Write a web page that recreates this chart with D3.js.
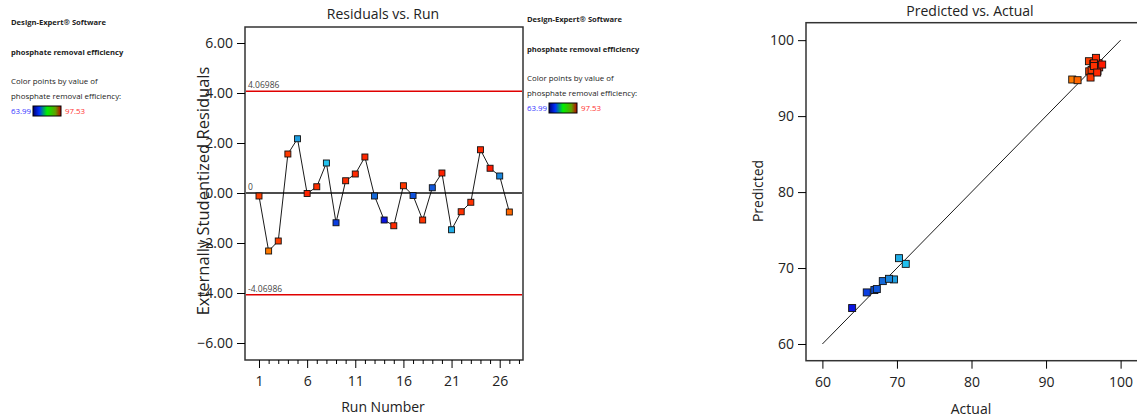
<!DOCTYPE html>
<html><head><meta charset="utf-8">
<script src="https://cdn.jsdelivr.net/npm/d3@7"></script>
<style>
body{margin:0;background:#fff;}
text{font-family:"Open Sans","Noto Sans",sans-serif;fill:#222;}
</style></head><body>
<svg id="c" width="1137" height="419"></svg>
<script>
// ---- data ----
const runs = d3.range(1, 28);
const residuals = [-0.12,-2.32,-1.92,1.56,2.17,-0.02,0.25,1.20,-1.19,0.49,0.76,1.44,-0.12,-1.08,-1.31,0.29,-0.10,-1.08,0.21,0.80,-1.47,-0.75,-0.37,1.73,0.99,0.68,-0.76];
const actual    = [95.79,93.51,95.75,95.97,69.60,97.05,96.50,71.18,65.95,96.60,96.78,96.90,68.10,63.99,96.69,96.11,66.97,96.33,67.30,97.13,70.28,96.42,96.42,96.86,97.53,68.94,94.23];
const predicted = [95.90,94.82,97.23,95.08,68.50,96.97,96.25,70.55,66.79,96.20,96.27,95.95,68.28,64.73,97.67,96.09,67.10,96.88,67.23,96.42,71.30,96.95,96.60,95.74,96.79,68.58,94.73];
const limitValue = 4.06986;
const resTicks = [-6,-4,-2,0,2,4,6];
const runTicks = [1,6,11,16,21,26];
const pvaTicks = [60,70,80,90,100];
const legendMin = 63.99, legendMax = 97.53;
const colorStops = [63.99,66,68,69.6,71.3,93.5,95.8,97.53];
const colorRange = ["#0a14e0","#0b3fe0","#1466d8","#1f9ee0","#22c4ef","#ff7a00","#ff3e00","#ff1a00"];

const svg = d3.select("#c");
const color = d3.scaleLinear().domain(colorStops).range(colorRange);

// gradient
const defs = svg.append("defs");
const g = defs.append("linearGradient").attr("id","grad");
[["0%","#000070"],["22%","#0030ff"],["50%","#00f000"],["80%","#60a000"],["100%","#c00000"]].forEach(s=>g.append("stop").attr("offset",s[0]).attr("stop-color",s[1]));

function legend(x, y0) {
  const L = svg.append("g");
  L.append("text").attr("x",x).attr("y",y0).attr("font-size",7.6).attr("font-weight","bold").text("Design-Expert® Software");
  L.append("text").attr("x",x).attr("y",y0+30).attr("font-size",7.6).attr("font-weight","bold").text("phosphate removal efficiency");
  L.append("text").attr("x",x).attr("y",y0+59).attr("font-size",7.9).text("Color points by value of");
  L.append("text").attr("x",x).attr("y",y0+74).attr("font-size",7.9).text("phosphate removal efficiency:");
  L.append("text").attr("x",x).attr("y",y0+89).attr("font-size",7.9).style("fill","#3333ff").text(legendMin.toFixed(2));
  L.append("rect").attr("x",x+22).attr("y",y0+81).attr("width",28).attr("height",10).attr("fill","url(#grad)").attr("stroke","#000").attr("stroke-width",1);
  L.append("text").attr("x",x+54).attr("y",y0+89).attr("font-size",7.9).style("fill","#ff3333").text(legendMax.toFixed(2));
}
legend(11, 25);
legend(527, 22);

// ---- Residuals vs Run ----
const x1 = d3.scaleLinear().domain([-0.454, 28.42]).range([245, 523]);
const y1 = d3.scaleLinear().domain([-6.68, 6.64]).range([360, 27]);
const p1 = svg.append("g");
p1.append("rect").attr("x",245).attr("y",27).attr("width",278).attr("height",333).attr("fill","none").attr("stroke","#333").attr("stroke-width",1.5);
// axes
const ya1 = p1.append("g").attr("transform","translate(245,0)").call(d3.axisLeft(y1).tickValues(resTicks).tickFormat(d3.format(".2f")).tickSize(8).tickSizeOuter(0));
ya1.select(".domain").remove();
ya1.selectAll("text").attr("font-size",14).attr("dx",-1).style("font-family","'Open Sans'");
const xa1 = p1.append("g").attr("transform","translate(0,360)").call(d3.axisBottom(x1).tickValues(runTicks).tickFormat(d3.format("d")).tickSize(8).tickSizeOuter(0));
xa1.select(".domain").remove();
xa1.selectAll("text").attr("font-size",14).attr("dy","1.1em").style("font-family","'Open Sans'");
const xm1 = p1.append("g").attr("transform","translate(0,360)").call(d3.axisBottom(x1).tickValues(d3.range(1,29).filter(d=>!runTicks.includes(d))).tickFormat("").tickSize(4).tickSizeOuter(0));
xm1.select(".domain").remove();
// limit lines
[limitValue, -limitValue].forEach(v=>{
  p1.append("line").attr("x1",246).attr("x2",522).attr("y1",y1(v)).attr("y2",y1(v)).attr("stroke","#e00000").attr("stroke-width",1.5);
  p1.append("text").attr("x",248).attr("y",y1(v)-3).attr("font-size",8.5).style("fill","#444").text(v.toFixed(5));
});
p1.append("line").attr("x1",246).attr("x2",522).attr("y1",y1(0)).attr("y2",y1(0)).attr("stroke","#111").attr("stroke-width",1.5);
p1.append("text").attr("x",248).attr("y",y1(0)-3).attr("font-size",8.5).style("fill","#444").text("0");
// line
p1.append("path").datum(runs).attr("fill","none").attr("stroke","#000").attr("stroke-width",0.9)
  .attr("d", d3.line().x(d=>x1(d)).y((d,i)=>y1(residuals[i])));
p1.selectAll("rect.pt").data(runs).join("rect").attr("class","pt")
  .attr("x",d=>x1(d)-3).attr("y",(d,i)=>y1(residuals[i])-3).attr("width",6).attr("height",6)
  .attr("fill",(d,i)=>color(actual[i])).attr("stroke","#111").attr("stroke-width",0.9);
p1.append("text").attr("x",383).attr("y",19).attr("text-anchor","middle").attr("font-size",14).text("Residuals vs. Run");
p1.append("text").attr("x",383).attr("y",412).attr("text-anchor","middle").attr("font-size",14).text("Run Number");
p1.append("text").attr("transform","translate(209,191) rotate(-90)").attr("text-anchor","middle").attr("font-size",16.5).text("Externally Studentized Residuals");

// ---- Predicted vs Actual ----
const x2 = d3.scaleLinear().domain([57.8, 102.2]).range([806, 1137]);
const y2 = d3.scaleLinear().domain([57.8, 102.3]).range([360.7, 22.7]);
const p2 = svg.append("g");
p2.append("rect").attr("x",806).attr("y",22.7).attr("width",340).attr("height",338).attr("fill","none").attr("stroke","#333").attr("stroke-width",1.5);
const ya2 = p2.append("g").attr("transform","translate(806,0)").call(d3.axisLeft(y2).tickValues(pvaTicks).tickFormat(d3.format("d")).tickSize(8).tickSizeOuter(0));
ya2.select(".domain").remove();
ya2.selectAll("text").attr("font-size",14).attr("dx",-1).style("font-family","'Open Sans'");
const xa2 = p2.append("g").attr("transform","translate(0,360.7)").call(d3.axisBottom(x2).tickValues(pvaTicks).tickFormat(d3.format("d")).tickSize(8).tickSizeOuter(0));
xa2.select(".domain").remove();
xa2.selectAll("text").attr("font-size",14).attr("dy","1.1em").style("font-family","'Open Sans'");
p2.append("line").attr("x1",x2(60)).attr("y1",y2(60)).attr("x2",x2(100)).attr("y2",y2(100)).attr("stroke","#000").attr("stroke-width",0.9);
p2.selectAll("rect.pt").data(runs).join("rect").attr("class","pt")
  .attr("x",(d,i)=>x2(actual[i])-3.5).attr("y",(d,i)=>y2(predicted[i])-3.5).attr("width",7).attr("height",7)
  .attr("fill",(d,i)=>color(actual[i])).attr("stroke","#111").attr("stroke-width",0.9);
p2.append("text").attr("x",970).attr("y",16).attr("text-anchor","middle").attr("font-size",14).text("Predicted vs. Actual");
p2.append("text").attr("x",971).attr("y",414).attr("text-anchor","middle").attr("font-size",14).text("Actual");
p2.append("text").attr("transform","translate(763,191) rotate(-90)").attr("text-anchor","middle").attr("font-size",14).text("Predicted");
</script></body></html>
